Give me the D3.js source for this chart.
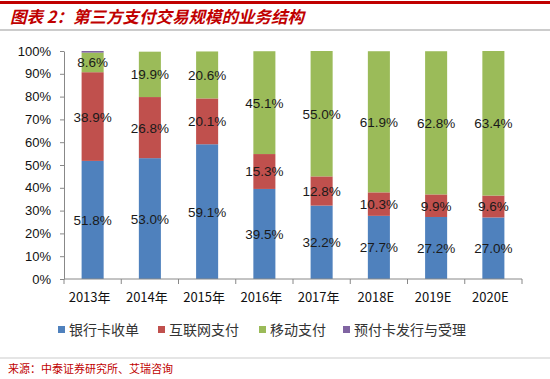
<!DOCTYPE html>
<html><head><meta charset="utf-8">
<script src="https://cdn.jsdelivr.net/npm/d3@7"></script>
<style>body{margin:0;background:#fff}svg{display:block}</style>
</head><body><svg id="c" width="550" height="379"></svg>
<script>
const categories = ["2013年","2014年","2015年","2016年","2017年","2018E","2019E","2020E"];
const seriesNames = ["银行卡收单","互联网支付","移动支付","预付卡发行与受理"];
const bankCard = [51.8,53.0,59.1,39.5,32.2,27.7,27.2,27.0];
const internetPay = [38.9,26.8,20.1,15.3,12.8,10.3,9.9,9.6];
const mobilePay = [8.6,19.9,20.6,45.1,55.0,61.9,62.8,63.4];
const prepaid = [0.7,0,0,0,0,0,0,0];
const yTicks = [0,10,20,30,40,50,60,70,80,90,100];
const colors = ["#4F81BD","#C0504D","#9BBB59","#8064A2"];

const svg = d3.select("#c");
const font = "'Liberation Sans','DejaVu Sans',sans-serif";
const cjk = "'Noto Sans CJK SC',sans-serif";

// header
svg.append("rect").attr("x",0).attr("y",1).attr("width",550).attr("height",3).attr("fill","#C00000");
svg.append("text").attr("x",10).attr("y",23).text("图表 2：第三方支付交易规模的业务结构")
  .attr("font-family",cjk).attr("font-size",16.5).attr("font-weight","bold").attr("font-style","italic")
  .attr("fill","#C00000");
svg.append("line").attr("x1",0).attr("x2",550).attr("y1",30).attr("y2",30).attr("stroke","#bbb").attr("stroke-width",1.5);

const m = {l:64, r:522, t:51, b:279};
const x = d3.scaleBand().domain(categories).range([m.l,m.r]).paddingInner(0.615).paddingOuter(0.3075);
const y = d3.scaleLinear().domain([0,100]).range([m.b,m.t]);

const rows = categories.map((c,i)=>({cat:c, s0:bankCard[i], s1:internetPay[i], s2:mobilePay[i], s3:prepaid[i]}));
const stack = d3.stack().keys(["s0","s1","s2","s3"])(rows);

const g = svg.append("g");
stack.forEach((layer,li)=>{
  g.selectAll(null).data(layer).enter().append("rect")
    .attr("x",d=>x(d.data.cat)).attr("width",x.bandwidth())
    .attr("y",d=>y(d[1])).attr("height",d=>Math.max(0,y(d[0])-y(d[1])))
    .attr("fill",colors[li]);
  if(li<3){
    g.selectAll(null).data(layer).enter().append("text")
      .attr("x",d=>x(d.data.cat)+x.bandwidth()/2)
      .attr("y",d=>y((d[0]+d[1])/2)+5)
      .attr("text-anchor","middle").attr("font-family",font).attr("font-size",13.5).attr("fill","#1a1a1a")
      .text(d=>d.data["s"+li].toFixed(1)+"%");
  }
});

// y axis
const ya = svg.append("g").attr("transform",`translate(${m.l},0)`)
  .call(d3.axisLeft(y).tickValues(yTicks).tickFormat(d=>d+"%").tickSize(4).tickSizeOuter(0));
ya.select(".domain").attr("stroke","#888");
ya.selectAll(".tick line").attr("stroke","#888");
ya.selectAll("text").attr("font-family",font).attr("font-size",13).attr("fill","#111").attr("dx",-6);

// x axis
const step = x.step();
const xa = svg.append("g").attr("transform",`translate(0,${m.b})`);
xa.append("line").attr("x1",m.l).attr("x2",m.r).attr("stroke","#888");
d3.range(categories.length+1).forEach(i=>{
  xa.append("line").attr("x1",m.l+i*step).attr("x2",m.l+i*step).attr("y1",0).attr("y2",5).attr("stroke","#888");
});
xa.selectAll(null).data(categories).enter().append("text")
  .attr("x",d=>x(d)+x.bandwidth()/2-3).attr("y",23)
  .attr("text-anchor","middle").attr("font-family",cjk).attr("font-size",13).attr("fill","#111").text(d=>d);

// legend
const legX = [58,158,259,343];
seriesNames.forEach((n,i)=>{
  svg.append("rect").attr("x",legX[i]).attr("y",326).attr("width",7).attr("height",7).attr("fill",colors[i]);
  svg.append("text").attr("x",legX[i]+11).attr("y",335).text(n)
    .attr("font-family",cjk).attr("font-size",14).attr("fill","#333");
});

// footer
svg.append("line").attr("x1",0).attr("x2",550).attr("y1",358).attr("y2",358).attr("stroke","#ccc").attr("stroke-width",1.2);
svg.append("text").attr("x",8).attr("y",373).text("来源：中泰证券研究所、艾瑞咨询")
  .attr("font-family",cjk).attr("font-size",11).attr("fill","#C00000");
</script></body></html>
